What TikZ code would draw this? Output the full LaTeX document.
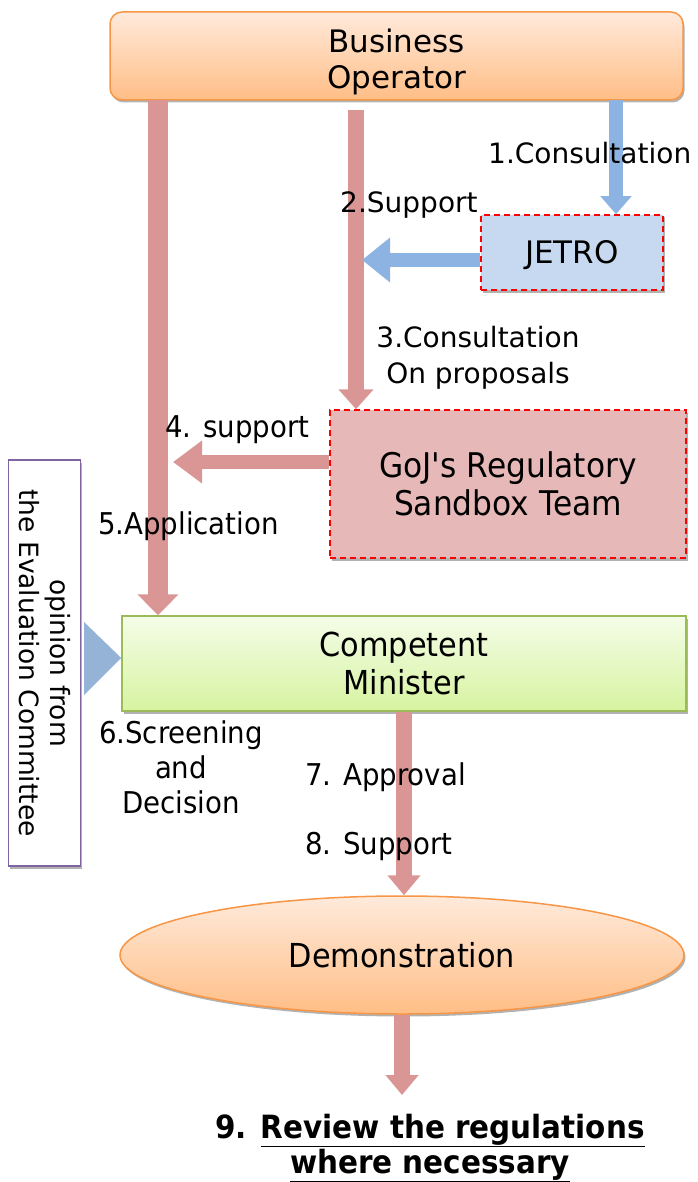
\documentclass[tikz,border=0pt]{standalone}
\usepackage{fontspec}
\setmainfont{DejaVu Sans}
\newfontfamily\cond[FakeStretch=0.92]{DejaVu Sans}
\usetikzlibrary{arrows.meta,shapes.geometric,shadows}
\definecolor{arrred}{HTML}{D99694}
\definecolor{arrblue}{HTML}{8DB3E2}
\definecolor{jfill}{HTML}{C6D9F1}
\definecolor{gfill}{HTML}{E6B9B8}
\definecolor{otop}{HTML}{FFEADB}
\definecolor{obot}{HTML}{FFBE86}
\definecolor{oline}{HTML}{F79646}
\definecolor{gtop}{HTML}{F4FDE8}
\definecolor{gbot}{HTML}{D7F3A0}
\definecolor{gline}{HTML}{9BBB59}
\definecolor{tri}{HTML}{95B3D7}
\definecolor{purp}{HTML}{8064A2}
\tikzset{
  shad/.style={drop shadow={shadow xshift=1.5pt,shadow yshift=-2.5pt,opacity=0.3,fill=black}},
  opbox/.style={shad,rounded corners=12pt,draw=oline,line width=1.5pt,top color=otop,bottom color=obot,
    align=center,inner sep=0pt,font=\fontsize{31}{36}\selectfont},
  dashbox/.style={shad,draw=red,line width=1.5pt,dash pattern=on 6pt off 4pt,align=center,inner sep=0pt},
  minbox/.style={shad,draw=gline,line width=1.5pt,top color=gtop,bottom color=gbot,align=center,inner sep=0pt,
    font=\cond\fontsize{33}{38}\selectfont},
  demobox/.style={shad,ellipse,draw=oline,line width=1.5pt,top color=otop,bottom color=obot,inner sep=0pt,
    font=\cond\fontsize{33}{38}\selectfont},
  evalbox/.style={shad,draw=purp,line width=1.5pt,fill=white,align=center,inner sep=0pt,
    font=\fontsize{26.5}{31}\selectfont},
  widelbl/.style={font=\fontsize{28}{36}\selectfont,inner sep=0pt},
  condlbl/.style={font=\cond\fontsize{30}{35}\selectfont,inner sep=0pt},
  redarr/.style={draw=arrred,line width=#1},
  bluearr/.style={draw=arrblue,line width=#1},
}
\begin{document}
\begin{tikzpicture}[x=1pt,y=-1pt]
\useasboundingbox (0,0) rectangle (697,1182);

% boxes
\node[opbox,minimum width=573pt,minimum height=88pt] (bo) at (396.5,56) {\rule{0pt}{35pt}Business\\Operator};
\node[dashbox,fill=jfill,minimum width=182pt,minimum height=75pt,font=\fontsize{31}{36}\selectfont] (jetro) at (572,252.5) {\rule{0pt}{29pt}JETRO};
\node[dashbox,fill=gfill,minimum width=356pt,minimum height=148pt,font=\cond\fontsize{34}{38}\selectfont] (goj) at (508,484) {GoJ's Regulatory\\Sandbox Team};
\node[minbox,minimum width=564pt,minimum height=95pt] (min) at (404,663.5) {Competent\\Minister};
\node[evalbox,rotate=-90,minimum width=406pt,minimum height=72pt] (eval) at (44.5,663) {opinion from\\the Evaluation Committee};
\node[demobox,minimum width=564pt,minimum height=118pt] (demo) at (402,955) {Demonstration};
\node[font=\cond\bfseries\fontsize{32}{35}\selectfont,align=center,inner sep=0pt] (review) at (430,1148)
  {9. \underline{Review the regulations}\\\underline{where necessary}};

% coordinates for arrow ends
\coordinate (a1) at (158,100);
\coordinate (a2) at (356,110);
\coordinate (a3) at (616,100);
\coordinate (t2) at (362,260);
\coordinate (t4) at (173,462);
\coordinate (t9) at (402,1095);
\coordinate (tr1) at (84,622);
\coordinate (tr2) at (84,695);

% arrows
\draw[redarr=20pt,-{Triangle[length=21pt,width=40pt]}] (a1) -- (a1 |- min.north);
\draw[redarr=16pt,-{Triangle[length=20pt,width=34pt]}] (a2) -- (a2 |- goj.north);
\draw[bluearr=14pt,-{Triangle[length=18pt,width=30pt]}] (a3) -- (a3 |- jetro.north);
\draw[bluearr=14pt,-{Triangle[length=28pt,width=43pt]}] (jetro.west |- t2) -- (t2);
\draw[redarr=14pt,-{Triangle[length=29pt,width=41pt]}] (goj.west |- t4) -- (t4);
\draw[redarr=16pt,-{Triangle[length=20pt,width=32pt]}] (min.south) -- (min.south |- demo.north);
\draw[redarr=16pt,-{Triangle[length=20pt,width=32pt]}] (demo.south) -- (t9);
\fill[tri] (tr1) -- (min.west |- 0,658) -- (tr2) -- cycle;

% labels
\node[widelbl,anchor=base west] (l1) at (488,164) {1.Consultation};
\node[widelbl,anchor=base west] (l2) at (340,213) {2.Support};
\node[widelbl,align=center] (l3) at (478,358) {3.Consultation\\On proposals};
\node[condlbl,anchor=base west] (l4) at (165,437) {4. support};
\node[condlbl,anchor=base west] (l5) at (98,534) {5.Application};
\node[condlbl,align=center] (l6) at (181,767) {6.Screening\\and\\Decision};
\node[condlbl,anchor=base west] (l7) at (305,785) {7. Approval};
\node[condlbl,anchor=base west] (l8) at (305,854) {8. Support};
\end{tikzpicture}
\end{document}
